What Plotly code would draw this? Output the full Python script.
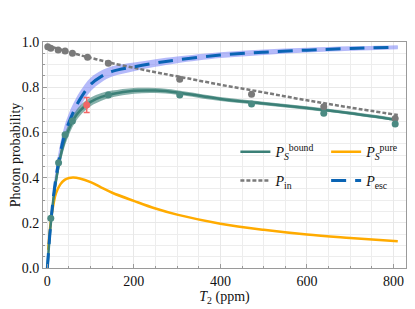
import plotly.graph_objects as go

# ---- data ----
T_curve = [0, 2, 5, 10, 15, 20, 30, 40, 50, 60, 75, 100, 125, 150, 200, 250, 300, 400, 500, 600, 700, 810]
P_esc   = [0.0, 0.05, 0.13, 0.24, 0.33, 0.40, 0.51, 0.59, 0.645, 0.69, 0.745, 0.812, 0.848, 0.870, 0.890, 0.907, 0.921, 0.942, 0.955, 0.964, 0.971, 0.977]
esc_err = [0.0, 0.012, 0.025, 0.035, 0.04, 0.042, 0.042, 0.041, 0.040, 0.038, 0.035, 0.030, 0.026, 0.023, 0.019, 0.017, 0.015, 0.013, 0.012, 0.011, 0.010, 0.009]
P_bound = [0.0, 0.05, 0.13, 0.235, 0.32, 0.385, 0.49, 0.565, 0.615, 0.655, 0.695, 0.735, 0.757, 0.770, 0.784, 0.785, 0.777, 0.748, 0.728, 0.708, 0.685, 0.655]
bound_err = [0.0, 0.01, 0.02, 0.028, 0.03, 0.03, 0.029, 0.028, 0.026, 0.024, 0.022, 0.019, 0.017, 0.015, 0.013, 0.011, 0.010, 0.009, 0.008, 0.008, 0.007, 0.007]
P_in    = [0.984, 0.983, 0.982, 0.979, 0.976, 0.973, 0.967, 0.961, 0.955, 0.950, 0.942, 0.930, 0.918, 0.906, 0.886, 0.866, 0.848, 0.811, 0.777, 0.742, 0.710, 0.677]
T_pure  = [2, 5, 10, 15, 20, 30, 40, 50, 60, 75, 100, 125, 150, 200, 250, 300, 400, 500, 600, 700, 810]
P_pure  = [0.08, 0.15, 0.235, 0.29, 0.33, 0.37, 0.39, 0.398, 0.400, 0.396, 0.380, 0.356, 0.333, 0.297, 0.263, 0.236, 0.196, 0.169, 0.148, 0.133, 0.118]

T_in_pts = [1, 8, 25, 41, 58, 93, 141, 306, 472, 639, 804]
P_in_pts = [0.979, 0.972, 0.965, 0.960, 0.950, 0.932, 0.906, 0.835, 0.769, 0.714, 0.662]
T_b_pts  = [8, 26, 41, 58, 141, 306, 472, 639, 804]
P_b_pts  = [0.22, 0.466, 0.59, 0.65, 0.765, 0.765, 0.726, 0.685, 0.637]
T_red, P_red, E_red = [91], [0.721], [0.033]

x_ticks = [0, 200, 400, 600, 800]
y_ticks = [0.0, 0.2, 0.4, 0.6, 0.8, 1.0]

TEAL = "#3b8077"
ORANGE = "#ffab00"
GRAY = "#7a7a7a"
BLUE = "#0a64b4"
FONT = "Liberation Serif"

fig = go.Figure()

def band(x, y, e, color):
    lo = [a - b for a, b in zip(y, e)]
    hi = [a + b for a, b in zip(y, e)]
    fig.add_trace(go.Scatter(x=x, y=lo, mode="lines", line=dict(width=0, shape="spline"),
                             showlegend=False, hoverinfo="skip"))
    fig.add_trace(go.Scatter(x=x, y=hi, mode="lines", line=dict(width=0, shape="spline"),
                             fill="tonexty", fillcolor=color, showlegend=False, hoverinfo="skip"))

band(T_curve, P_esc, esc_err, "rgba(120,130,245,0.55)")
band(T_curve, P_bound, bound_err, "rgba(55,125,115,0.6)")

fig.add_trace(go.Scatter(x=T_pure, y=P_pure, mode="lines", line=dict(color=ORANGE, width=2.5, shape="spline"),
                         name="<i>P</i><sub><i>S</i></sub><sup>pure</sup>", legend="legend2"))
fig.add_trace(go.Scatter(x=T_curve, y=P_bound, mode="lines", line=dict(color=TEAL, width=2.5, shape="spline"),
                         name="<i>P</i><sub><i>S</i></sub><sup>bound</sup>", legend="legend"))
fig.add_trace(go.Scatter(x=T_curve, y=P_in, mode="lines", line=dict(color=GRAY, width=2.5, dash="4px,2px", shape="spline"),
                         name="<i>P</i><sub>in</sub>", legend="legend3"))
fig.add_trace(go.Scatter(x=T_curve, y=P_esc, mode="lines", line=dict(color=BLUE, width=3, dash="15px,9px", shape="spline"),
                         name="<i>P</i><sub>esc</sub>", legend="legend4"))

fig.add_trace(go.Scatter(x=T_in_pts, y=P_in_pts, mode="markers", marker=dict(color=GRAY, size=7),
                         showlegend=False))
fig.add_trace(go.Scatter(x=T_b_pts, y=P_b_pts, mode="markers", marker=dict(color="#4a8a82", size=7),
                         showlegend=False))
fig.add_trace(go.Scatter(x=T_red, y=P_red, mode="markers", marker=dict(color="#f26666", size=7),
                         error_y=dict(type="data", array=E_red, color="#f26666", thickness=1.5, width=3),
                         showlegend=False))

axis_common = dict(
    showline=True, linecolor="#9a9a9a", linewidth=1, mirror=True,
    ticks="inside", ticklen=4, tickcolor="#9a9a9a",
    showgrid=True, gridcolor="#e8e8e8", gridwidth=1, zeroline=False,
    tickfont=dict(family=FONT, size=14, color="#111"),
    automargin=False,
)

def leg(x, y):
    return dict(orientation="v", x=x, y=y, xanchor="left", yanchor="middle",
                bgcolor="rgba(0,0,0,0)", font=dict(family=FONT, size=14), borderwidth=0)

# the page body adds an 8px offset, so the figure is 8px smaller and shifted accordingly
fig.update_layout(
    width=407, height=301,
    margin=dict(l=35, r=9, t=34, b=41),
    paper_bgcolor="white", plot_bgcolor="white",
    font=dict(family=FONT, size=14, color="#111"),
    xaxis=dict(range=[-10, 829], tickvals=x_ticks, ticktext=[str(v) for v in x_ticks],
               minor=dict(dtick=50, tick0=0, showgrid=True, gridcolor="#ededed", ticks="inside", ticklen=2, tickcolor="#9a9a9a"),
               title=dict(text="<i>T</i><sub>2</sub> (ppm)", font=dict(family=FONT, size=14), standoff=2),
               **axis_common),
    yaxis=dict(range=[0, 1], tickvals=y_ticks, ticktext=[f"{v:.1f}" for v in y_ticks],
               minor=dict(dtick=0.05, tick0=0, showgrid=True, gridcolor="#ededed", ticks="inside", ticklen=2, tickcolor="#9a9a9a"),
               title=dict(text="Photon probability", font=dict(family=FONT, size=14), standoff=4),
               **axis_common),
    legend=leg(0.53, 0.513),
    legend2=leg(0.78, 0.513),
    legend3=leg(0.53, 0.385),
    legend4=leg(0.78, 0.385),
)

fig.write_html("out.html")
